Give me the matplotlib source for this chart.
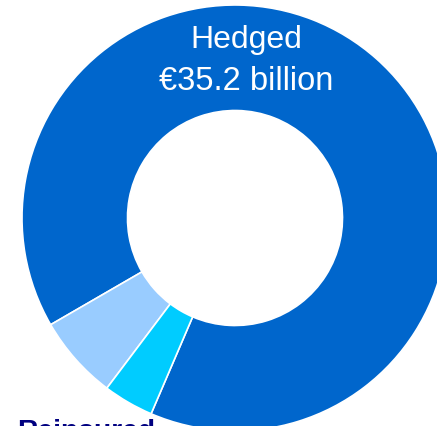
import matplotlib
matplotlib.use("Agg")
import matplotlib.pyplot as plt

# Portfolio split (EUR billion)
categories = ["Hedged", "Reinsured", "Other"]
values = [35.2, 2.5, 1.5]
colors = ["#0066CC", "#99CCFF", "#00CCFF"]

W, H = 437, 427
fig = plt.figure(figsize=(W / 100, H / 100), dpi=100)
ax = fig.add_axes([0, 0, 1, 1])

cx, cy = 235, H - 219
outer_r, inner_r = 213, 107.5

ax.pie(values, colors=colors, startangle=246.8, counterclock=True,
       center=(cx, cy), radius=outer_r,
       wedgeprops=dict(width=outer_r - inner_r, edgecolor="white", linewidth=1.2))

ax.set_aspect("auto")
ax.set_xlim(0, W)
ax.set_ylim(0, H)
ax.axis("off")

font = "Liberation Sans"
ax.text(246, H - 48, categories[0], color="white", fontsize=23, family=font,
        ha="center", va="baseline")
ax.text(246, H - 90, f"\u20ac{values[0]} billion", color="white", fontsize=23.5,
        family=font, ha="center", va="baseline")

ax.text(17, -12, categories[1], color="#000080", fontsize=20.3, family=font,
        fontweight="bold", ha="left", va="baseline")

fig.savefig("out.png", dpi=100)
